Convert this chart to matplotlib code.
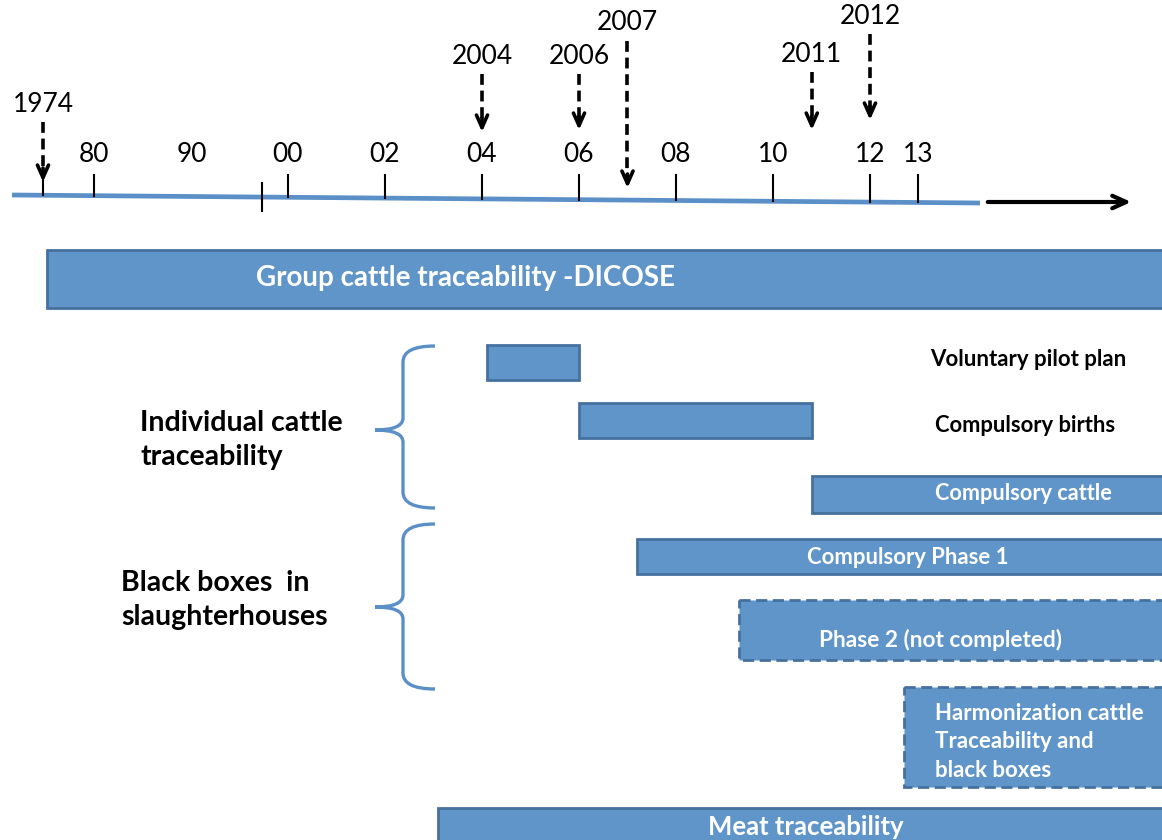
import numpy as np
import matplotlib
matplotlib.use("Agg")
import matplotlib.pyplot as plt
from matplotlib.path import Path
from matplotlib.patches import PathPatch

plt.rcParams['font.family'] = ['Lato', 'DejaVu Sans']

# timeline ticks (year, label)
tick_years = [1980, 2000, 2002, 2004, 2006, 2008, 2010, 2012, 2013]
tick_labels = ['80', '00', '02', '04', '06', '08', '10', '12', '13']
label_only_years = [1990]
label_only_text = ['90']
break_year = 1997.3

# events marked with dashed arrows
event_years = [1974, 2004, 2006, 2007, 2010.8, 2012]
event_labels = ['1974', '2004', '2006', '2007', '2011', '2012']

# periods (start year, end year, label)
bar_names = ['Group cattle traceability -DICOSE', 'Voluntary pilot plan', 'Compulsory births',
             'Compulsory cattle', 'Compulsory Phase 1', 'Phase 2 (not completed)',
             'Harmonization cattle\nTraceability and\nblack boxes', 'Meat traceability']
bar_start = [1974.5, 2004.1, 2006.0, 2010.8, 2007.2, 2009.3, 2012.7, 2003.1]
bar_end = [2020, 2006.0, 2010.8, 2020, 2020, 2020, 2020, 2020]
bar_dashed = [False, False, False, False, False, True, True, False]

groups = ['Individual cattle\ntraceability', 'Black boxes  in\nslaughterhouses']

# ---- layout ----
yr = [1960, 1974, 1980, 1990, 2000, 2030]
px = [-76, 43, 94, 192, 288, 288 + 30 * 48.5]
fwd = lambda v: np.interp(v, yr, px)
inv = lambda p: np.interp(p, px, yr)

fill = '#5f95c9'
edge = '#46719e'
line_blue = '#5b8fc7'

fig = plt.figure(figsize=(11.62, 8.4), dpi=100)
ax = fig.add_axes([0, 0, 1, 1])
ax.set_xscale('function', functions=(fwd, inv))
ax.set_xlim(inv(0), inv(1162))
ax.set_ylim(840, 0)
ax.axis('off')

# timeline axis line (slightly sloped)
line_x0, line_x1 = inv(12), inv(980)
line_y = lambda yv: 195 + (fwd(yv) - 12) / 968 * 8
ax.plot([line_x0, line_x1], [line_y(line_x0), line_y(line_x1)], color=line_blue, lw=3.4,
        solid_capstyle='butt')
ax.annotate('', xy=(inv(1134), 202), xytext=(inv(985), 202),
            arrowprops=dict(arrowstyle='->,head_length=1.0,head_width=0.45', lw=3, color='black'))

for y, lab in zip(tick_years, tick_labels):
    ax.plot([y, y], [175, line_y(y)], color='black', lw=1.5)
    ax.text(y, 154, lab, ha='center', va='center', fontsize=19)
for y, lab in zip(label_only_years, label_only_text):
    ax.text(y, 154, lab, ha='center', va='center', fontsize=19)
ax.plot([break_year, break_year], [183, 211], color='black', lw=1.5)
ax.plot([1974, 1974], [180, line_y(1974)], color='black', lw=1.5)

# event arrows
label_y = [104, 56, 56, 23, 54, 16]
tip_y = [182, 132, 130, 188, 130, 120]
for y, lab, ly, ty in zip(event_years, event_labels, label_y, tip_y):
    ax.text(y, ly, lab, ha='center', va='center', fontsize=19)
    ax.plot([y, y], [ly + 18, ty - 6], color='black', lw=2.6, linestyle=(0, (3, 1.6)))
    ax.annotate('', xy=(y, ty), xytext=(y, ty - 14),
                arrowprops=dict(arrowstyle='->,head_length=0.9,head_width=0.4', lw=2.6,
                                color='black', shrinkA=0, shrinkB=0))

# period bars
bar_top = [250, 345, 403, 476, 539, 600, 687, 808]
bar_h = [58, 35, 35, 37, 35, 60, 100, 40]
for s, e, t, h, d in zip(bar_start, bar_end, bar_top, bar_h, bar_dashed):
    ax.barh(t + h / 2, e - s, left=s, height=h, color=fill, edgecolor=edge, lw=2,
            linestyle=(0, (4, 2)) if d else '-')

# bar labels
txt_x = [465, 1028, 1025, 1023, 908, 940, 935, 806]
txt_y = [278, 360, 425, 493, 558, 640, 742, 827]
txt_c = ['white', 'black', 'black', 'white', 'white', 'white', 'white', 'white']
txt_s = [20, 16, 15.8, 15.6, 15.9, 16.3, 16, 18.5]
txt_ha = ['center'] * 6 + ['left', 'center']
for name, x, y, c, s, ha in zip(bar_names, txt_x, txt_y, txt_c, txt_s, txt_ha):
    ax.text(inv(x), y, name, ha=ha, va='center', color=c, fontsize=s, fontweight='bold',
            linespacing=1.47)

# braces
def brace(top, bottom, tip):
    xt, xs, xe = inv(375), inv(403), inv(435)
    verts = [(xe, top), (xs, top), (xs, top + 16), (xs, tip - 12), (xs, tip), (xt, tip),
             (xs, tip), (xs, tip + 12), (xs, bottom - 16), (xs, bottom), (xe, bottom)]
    codes = [Path.MOVETO, Path.CURVE3, Path.CURVE3, Path.LINETO, Path.CURVE3, Path.CURVE3,
             Path.CURVE3, Path.CURVE3, Path.LINETO, Path.CURVE3, Path.CURVE3]
    ax.add_patch(PathPatch(Path(verts, codes), fill=False, edgecolor=line_blue, lw=2.4))

brace_spans = [(346, 508, 430), (524, 689, 607)]
for (t, b, tp) in brace_spans:
    brace(t, b, tp)

group_x = [140, 121]
group_y = [440, 600]
for g, x, y in zip(groups, group_x, group_y):
    ax.text(inv(x), y, g, ha='left', va='center', fontsize=20.5, fontweight='bold',
            linespacing=1.4)

fig.savefig('out.png', dpi=100)
